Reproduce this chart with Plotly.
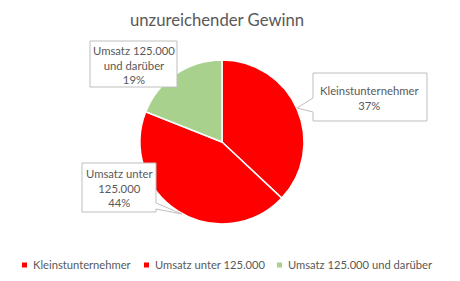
import plotly.graph_objects as go

# ---- data ----
categories = ["Kleinstunternehmer", "Umsatz unter 125.000", "Umsatz 125.000 und darüber"]
values = [37, 44, 19]
label_lines = ["Kleinstunternehmer", "Umsatz unter<br>125.000", "Umsatz 125.000<br>und darüber"]
colors = ["#FF0000", "#FF0000", "#A9D18E"]
title = "unzureichender Gewinn"

W, H = 460, 281
FONT = "Lato"
TXT = "#595959"
BORDER = "#BFBFBF"


def px(x, y):
    return x / W, 1 - y / H


def path(points):
    s = ""
    for i, (x, y) in enumerate(points):
        fx, fy = px(x, y)
        s += ("M" if i == 0 else "L") + f"{fx:.5f},{fy:.5f} "
    return s + "Z"


fig = go.Figure()
cx, cy, r = 222, 142, 82
fig.add_trace(go.Pie(
    labels=categories, values=values, sort=False, direction="clockwise", rotation=0,
    marker=dict(colors=colors, line=dict(color="white", width=1.5)),
    textinfo="none", hoverinfo="label+percent", showlegend=False,
    domain=dict(x=[(cx - r) / W, (cx + r) / W], y=[(H - cy - r) / H, (H - cy + r) / H]),
))

total = sum(values)
pct = [round(v / total * 100) for v in values]

# callout boxes (layout): (outline points, text center)
callouts = [
    ([(313, 73), (427, 73), (427, 121), (313, 121), (313, 112), (297, 108), (313, 98)], (370, 98)),
    ([(82, 163), (156, 163), (156, 203), (182, 214), (156, 209), (156, 212), (82, 212)], (119, 188)),
    ([(90, 41), (177, 41), (177, 87), (90, 87)], (133.5, 64.5)),
]
shapes = []
annotations = []
for i, (pts, (tx, ty)) in enumerate(callouts):
    shapes.append(dict(type="path", xref="paper", yref="paper", path=path(pts),
                       fillcolor="white", line=dict(color=BORDER, width=1)))
    ax_, ay_ = px(tx, ty)
    annotations.append(dict(x=ax_, y=ay_, xref="paper", yref="paper", showarrow=False,
                            xanchor="center", yanchor="middle",
                            text=f"{label_lines[i]}<br>{pct[i]}%", align="center",
                            font=dict(family=FONT, size=11.3, color=TXT)))

# custom legend
legend_x = [22, 144, 277]
ly = 265
for i, name in enumerate(categories):
    x0 = legend_x[i]
    a, b = px(x0, ly - 2.5)
    c, d = px(x0 + 5, ly + 2.5)
    shapes.append(dict(type="rect", xref="paper", yref="paper", x0=a, x1=c, y0=d, y1=b,
                       fillcolor=colors[i], line=dict(width=0)))
    tx, ty = px(x0 + 9, ly - 0.5)
    annotations.append(dict(x=tx, y=ty, xref="paper", yref="paper", showarrow=False,
                            xanchor="left", yanchor="middle", text=name,
                            font=dict(family=FONT, size=11.2, color=TXT)))

tx, ty = px(217, 20)
annotations.append(dict(x=tx, y=ty, xref="paper", yref="paper", showarrow=False,
                        xanchor="center", yanchor="middle",
                        text=title, font=dict(family=FONT, size=16.7, color=TXT)))

fig.update_layout(
    width=W, height=H, margin=dict(l=0, r=0, t=0, b=0),
    paper_bgcolor="white", plot_bgcolor="white",
    shapes=shapes, annotations=annotations, showlegend=False,
)
fig.write_html("out.html")
